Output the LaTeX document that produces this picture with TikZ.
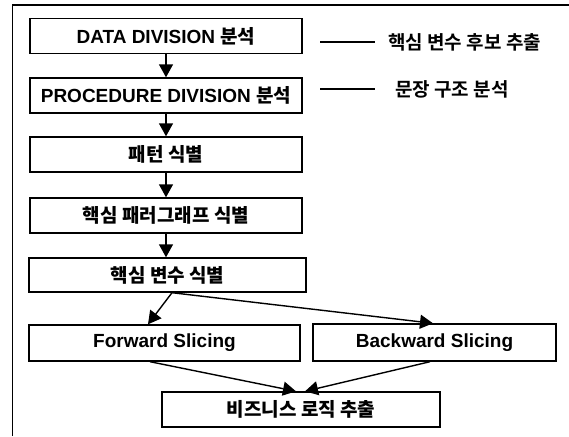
\documentclass[tikz,border=0pt]{standalone}
\usepackage{fontspec}
\setmainfont{Liberation Sans}
\newfontfamily\kofont{Noto Sans CJK KR Bold}
\newcommand{\ko}[1]{{\kofont #1}}
\usetikzlibrary{arrows.meta}

\tikzset{
  stepbox/.style={draw, line width=1.4pt, inner sep=0pt, minimum width=272pt,
    minimum height=35pt, font=\fontsize{19}{22}\selectfont\bfseries},
  sidetext/.style={inner sep=0pt, anchor=west, font=\fontsize{19}{22}\selectfont},
  flow/.style={line width=1.4pt, -{Triangle[width=14pt,length=13pt]}},
  tick/.style={line width=1.4pt},
}

\begin{document}
\begin{tikzpicture}[x=1pt, y=-1pt]
  \useasboundingbox (0,0) rectangle (569,436);

  % outer frame (open to the right and bottom)
  \draw[line width=1.4pt] (12.5,436) -- (12.5,5) -- (569,5);

  % main steps
  \node[stepbox] (b1) at (166,36) {DATA DIVISION \ko{분석}};
  \node[stepbox] (b2) at (166,95.5) {PROCEDURE DIVISION \ko{분석}};
  \node[stepbox] (b3) at (166,154.5) {\ko{패턴 식별}};
  \node[stepbox] (b4) at (166,215.5) {\ko{핵심 패러그래프 식별}};
  \node[stepbox, minimum width=277pt, minimum height=34pt] (b5) at (167.5,275) {\ko{핵심 변수 식별}};
  \node[stepbox, minimum width=271pt, minimum height=36pt] (fw) at (164.5,343) {Forward Slicing};
  \node[stepbox, minimum width=243pt, minimum height=37pt] (bw) at (434.5,342.5) {Backward Slicing};
  \node[stepbox, minimum width=278pt] (biz) at (301,409.5) {\ko{비즈니스 로직 추출}};

  % side notes
  \node[sidetext] (n1) at (388,42) {\ko{핵심 변수 후보 추출}};
  \node[sidetext] (n2) at (395,89) {\ko{문장 구조 분석}};
  \coordinate (t1a) at (320,42);
  \coordinate (t1b) at (375,42);
  \coordinate (t2a) at (320,89);
  \coordinate (t2b) at (375,89);
  \draw[tick] (t1a) -- (t1b);
  \draw[tick] (t2a) -- (t2b);

  % flow
  \draw[flow] (b1.south) -- (b2.north);
  \draw[flow] (b2.south) -- (b3.north);
  \draw[flow] (b3.south) -- (b4.north);
  \draw[flow] (b4.south) -- (b4.south |- b5.north);
  \draw[flow] ([xshift=4.5pt]b5.south) -- ([xshift=-16.5pt]fw.north);
  \draw[flow] ([xshift=4.5pt]b5.south) -- ([xshift=-1.5pt]bw.north);
  \draw[flow] ([xshift=-14.5pt]fw.south) -- ([xshift=-5pt]biz.north);
  \draw[flow] ([xshift=-4.5pt]bw.south) -- ([xshift=4pt]biz.north);
\end{tikzpicture}
\end{document}
